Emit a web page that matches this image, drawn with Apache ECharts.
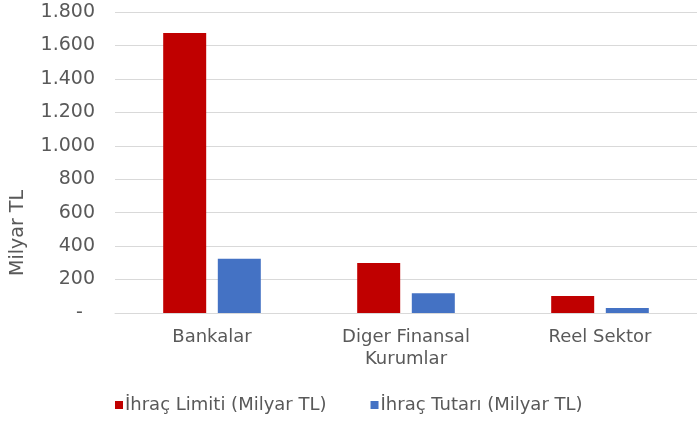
<!DOCTYPE html>
<html>
<head>
<meta charset="utf-8">
<script src="https://cdn.jsdelivr.net/npm/echarts@6/dist/echarts.min.js"></script>
<style>
  html, body { margin: 0; padding: 0; background: #fff; }
  #chart { width: 697px; height: 421px; }
</style>
</head>
<body>
<div id="chart"></div>
<script>
// Veriler
const categories = ['Bankalar', 'Diger Finansal\nKurumlar', 'Reel Sektor']
const ihracLimiti = [1675, 299, 102]
const ihracTutari = [325, 118, 30]
const seriesNames = ['İhraç Limiti (Milyar TL)', 'İhraç Tutarı (Milyar TL)']

const FONT = 'DejaVu Sans'
const TEXT = '#595959'

// 1.800 gibi binlik ayraçlı etiket, 0 için "-"
function fmt(v) {
  if (v === 0) return '-  '
  return String(v).replace(/\B(?=(\d{3})+(?!\d))/g, '.')
}

const chart = echarts.init(document.getElementById('chart'), null, { renderer: 'canvas' })
chart.setOption({
  animation: false,
  grid: { left: 115, right: 0, top: 12, bottom: 108 },
  legend: {
    bottom: 2,
    left: 110,
    itemWidth: 8,
    itemHeight: 8,
    itemGap: 44,
    icon: 'rect',
    textStyle: { fontFamily: FONT, fontSize: 18, color: TEXT, padding: [0, 0, 0, -3] },
    data: seriesNames
  },
  xAxis: {
    type: 'category',
    data: categories,
    axisLine: { show: true, lineStyle: { color: '#D9D9D9' } },
    axisTick: { show: false },
    axisLabel: { fontFamily: FONT, fontSize: 18, color: TEXT, margin: 13, lineHeight: 22 }
  },
  yAxis: {
    type: 'value',
    min: 0,
    max: 1800,
    interval: 200,
    axisLine: { show: false },
    axisTick: { show: false },
    splitLine: { lineStyle: { color: '#D9D9D9' } },
    axisLabel: {
      fontFamily: FONT, fontSize: 19, color: TEXT, margin: 20,
      formatter: fmt
    }
  },
  graphic: [{
    type: 'text',
    left: 9,
    top: 190,
    rotation: Math.PI / 2,
    style: { text: 'Milyar TL', font: '19px "DejaVu Sans"', fill: TEXT }
  }],
  series: [
    {
      name: seriesNames[0],
      type: 'bar',
      data: ihracLimiti,
      barWidth: 43,
      barGap: '27%',
      itemStyle: { color: '#C00000' }
    },
    {
      name: seriesNames[1],
      type: 'bar',
      data: ihracTutari,
      barWidth: 43,
      itemStyle: { color: '#4472C4' }
    }
  ]
})
</script>
</body>
</html>
